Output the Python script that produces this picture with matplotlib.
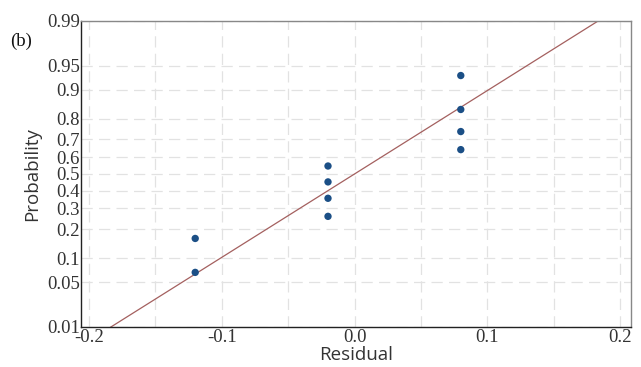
import numpy as np
import matplotlib
matplotlib.use("Agg")
import matplotlib.pyplot as plt
from statistics import NormalDist

nd = NormalDist()

residuals = [-0.12, -0.12, -0.02, -0.02, -0.02, -0.02, 0.08, 0.08, 0.08, 0.08]
ytick_vals = [0.01, 0.05, 0.1, 0.2, 0.3, 0.4, 0.5, 0.6, 0.7, 0.8, 0.9, 0.95, 0.99]
ytick_labels = ["0.01", "0.05", "0.1", "0.2", "0.3", "0.4", "0.5", "0.6", "0.7", "0.8", "0.9", "0.95", "0.99"]
xtick_vals = [-0.2, -0.1, 0.0, 0.1, 0.2]
xtick_labels = ["-0.2", "-0.1", "0.0", "0.1", "0.2"]

res = np.sort(np.array(residuals))
n = len(res)
probs = np.array([(i - 0.3) / (n + 0.4) for i in range(1, n + 1)])


def fwd(p):
    p = np.clip(np.asarray(p, dtype=float), 1e-9, 1 - 1e-9)
    return np.vectorize(nd.inv_cdf)(p) if p.size else p


def inv(z):
    z = np.asarray(z, dtype=float)
    return np.vectorize(nd.cdf)(z) if z.size else z


fig = plt.figure(figsize=(6.41, 3.67), dpi=100)
ax = fig.add_axes([0.1264, 0.109, 0.8576, 0.834])
ax.set_yscale("function", functions=(fwd, inv))

# fitted normal line
mu = res.mean()
sd = res.std(ddof=1)
xl = np.linspace(-0.21, 0.21, 200)
pl = np.array([nd.cdf((x - mu) / sd) for x in xl])
ax.plot(xl, pl, color="#a4605f", lw=0.9, zorder=2)

ax.scatter(res, probs, s=28, color="#1b4f86", zorder=3, edgecolors="none")

ax.set_xlim(-0.206, 0.208)
ax.set_ylim(0.01, 0.99)
ax.set_yticks(ytick_vals)
ax.set_yticklabels(ytick_labels)
ax.set_xticks(xtick_vals)
ax.set_xticklabels(xtick_labels)
ax.set_xticks([-0.15, -0.05, 0.05, 0.15], minor=True)
ax.yaxis.set_minor_locator(matplotlib.ticker.NullLocator())

ax.grid(True, which="both", axis="x", color="#e2e2e2", ls=(0, (9, 5)), lw=0.9)
ax.grid(True, which="major", axis="y", color="#e2e2e2", ls=(0, (9, 5)), lw=0.9)
ax.set_axisbelow(True)

for lab in ax.get_xticklabels() + ax.get_yticklabels():
    lab.set_fontfamily("Liberation Serif")
    lab.set_fontsize(13.5)
    lab.set_color("#333333")

ax.tick_params(axis="both", which="both", length=0, pad=1)
ax.tick_params(axis="x", pad=1.5)

ax.spines["left"].set_color("#222222")
ax.spines["bottom"].set_color("#222222")
ax.spines["top"].set_color("#888888")
ax.spines["right"].set_color("#888888")
for s in ax.spines.values():
    s.set_linewidth(1.0)

ax.set_xlabel("Residual", fontfamily="Open Sans", fontsize=13.5, color="#333333", labelpad=0)
ax.set_ylabel("Probability", fontfamily="Open Sans", fontsize=13.5, color="#333333", labelpad=4)

fig.text(0.016, 0.875, "(b)", fontfamily="Liberation Serif", fontsize=13.5, color="#111111")

fig.savefig("out.png", dpi=100)
